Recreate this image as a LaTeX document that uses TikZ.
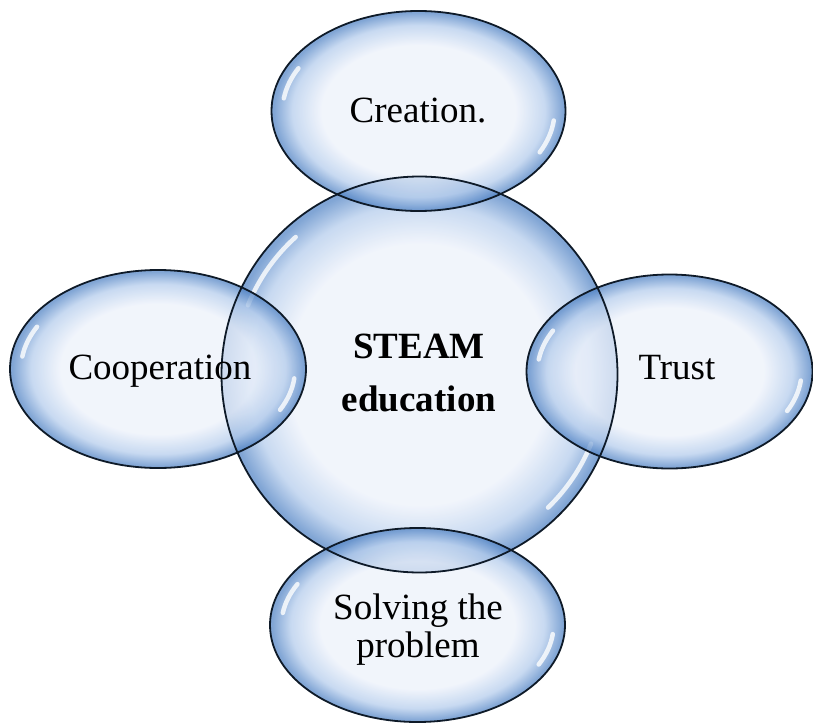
\documentclass[tikz,border=0pt]{standalone}
\usepackage{fontspec}
\setmainfont{Liberation Serif}
\usetikzlibrary{shapes.geometric}
\definecolor{bin}{HTML}{ECF1FA}
\definecolor{bmid}{HTML}{B4CCEC}
\definecolor{bout}{HTML}{5586C6}
\definecolor{bline}{HTML}{0E1A28}
\pgfdeclareradialshading{bubble}{\pgfpoint{0bp}{0bp}}{color(0bp)=(bin); color(16.5bp)=(bin); color(21.5bp)=(bmid); color(24.6bp)=(bout); color(25bp)=(bout); color(50bp)=(bout)}
\newcommand\hlarc[5]{%
  \draw[hilite] ([shift={(#4:#2 and #3)}]#1.center) arc[start angle=#4, end angle=#5, x radius=#2, y radius=#3];}
\begin{document}
\begin{tikzpicture}[x=1pt,y=-1pt,
  bubblebase/.style={shade, shading=bubble, fill opacity=0.74, inner sep=0pt, outer sep=0pt},
  oval/.style={bubblebase, ellipse, minimum width=#1},
  outline/.style={draw=bline, line width=1.8pt},
  hilite/.style={white, line width=4.5pt, line cap=round, opacity=0.8},
  lbl/.style={font=\fontsize{37}{38}\selectfont, align=center, inner sep=0pt, text=black}]
\useasboundingbox (0,0) rectangle (813,725);
% central circle
\node[bubblebase, circle, minimum size=396pt] (steam) at (419.5,374.5) {};
\hlarc{steam}{185}{185}{202}{228}
\hlarc{steam}{185}{185}{22}{46}
% satellites
\node[oval=294pt, minimum height=200pt] (creation) at (418.5,111) {};
\node[oval=296pt, minimum height=198pt] (coop) at (158,369) {};
\node[oval=286pt, minimum height=194pt] (trust) at (669.5,371.5) {};
\node[oval=295pt, minimum height=194pt] (solve) at (417.5,625) {};
\foreach \n/\rx/\ry in {creation/136/91, coop/137/90, trust/132/87, solve/136/87}{
  \hlarc{\n}{\rx}{\ry}{188}{208}
  \hlarc{\n}{\rx}{\ry}{6}{27}
}
% outlines on top
\draw[outline] (steam.center) circle[radius=198];
\draw[outline] (creation.center) ellipse[x radius=147, y radius=100];
\draw[outline] (coop.center) ellipse[x radius=148, y radius=99];
\draw[outline] (trust.center) ellipse[x radius=143, y radius=97];
\draw[outline] (solve.center) ellipse[x radius=147.5, y radius=97];
% labels
\node[lbl] (tcreation) at (418,111) {Creation.};
\node[lbl] (tcoop) at (160,371) {Cooperation};
\node[lbl] (ttrust) at (677,368) {Trust};
\node[lbl] (tsolve) at (418,630) {Solving the\\problem};
\node[lbl, font=\fontsize{37}{53}\selectfont\bfseries] (tsteam) at (419,373) {STEAM\\education};
\end{tikzpicture}
\end{document}
